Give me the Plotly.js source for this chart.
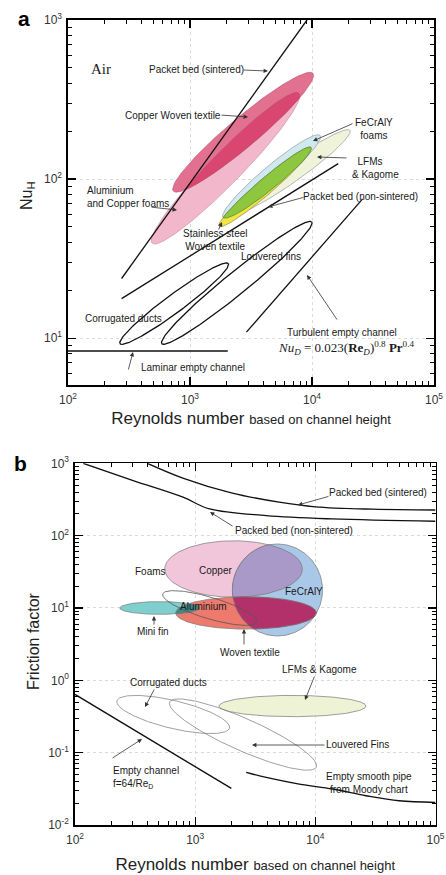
<!DOCTYPE html>
<html>
<head>
<meta charset="utf-8">
<script src="https://cdn.plot.ly/plotly-3.0.1.min.js"></script>
<style>
  html, body { margin: 0; padding: 0; background: #ffffff; }
  #chart { width: 446px; height: 875px; }
</style>
</head>
<body>
<div id="chart"></div>
<script>
// ===== Panel a: Nusselt number against Reynolds number (air) =====
// Correlation lines, end points [Re, Nu]
const sinteredRe = [275, 9100];
const sinteredNu = [23.7, 1000];
const nonSinteredRe = [275, 16400];
const nonSinteredNu = [17.7, 125];
const turbulentRe = [2900, 26000];
const turbulentNu = [10.9, 75];
const laminarRe = [100, 2040];
const laminarNu = [8.3, 8.3];

// Performance envelopes: both ends of the long axis (Re, Nu) and breadth (minor/major)
const envA = ['Aluminium and Copper foams', 'Copper Woven textile', 'LFMs & Kagome',
              'FeCrAlY foams', 'Stainless steel Woven textile', 'Louvered fins', 'Corrugated ducts'];
const envAReLo = [489, 730, 2340, 1862, 1730, 587, 267];
const envANuLo = [39.5, 84, 61.7, 57.4, 50.4, 9.22, 9.22];
const envAReHi = [7820, 10190, 20500, 11650, 9820, 9950, 2060];
const envANuHi = [346, 462, 202, 188, 158, 53.7, 29.4];
const envABreadth = [0.15, 0.16, 0.14, 0.16, 0.13, 0.115, 0.135];

// ===== Panel b: friction factor against Reynolds number =====
const sinteredFRe = [400, 800, 2000, 5000, 10000, 30000, 100000];
const sinteredF = [1000, 620, 390, 290, 250, 232, 226];
const nonSinteredFRe = [117, 305, 792, 1318, 3900, 13900, 100000];
const nonSinteredF = [1000, 577, 340, 234, 189, 170, 158];
const laminarFRe = [100, 2000];
const laminarF = [0.64, 0.032];
const moodyRe = [2660, 3900, 7360, 13900, 26400, 49800, 100000];
const moodyF = [0.0535, 0.0455, 0.0368, 0.0314, 0.0254, 0.0216, 0.0205];

const envB = ['Foams (Copper)', 'FeCrAlY', 'Woven textile', 'Mini fin', 'Aluminium',
              'LFMs & Kagome', 'Corrugated ducts', 'Louvered Fins'];
const envBReLo = [558, 4840, 689, 236, 537, 1578, 223, 614];
const envBFLo = [34.6, 76.7, 8.53, 10, 15.6, 0.441, 0.518, 0.501];
const envBReHi = [7800, 4840, 10190, 1089, 3236, 26370, 1932, 10190];
const envBFHi = [34.6, 4.1, 8.53, 10, 6.4, 0.441, 0.219, 0.0632];
const envBBreadth = [0.41, 0.98, 0.23, 0.16, 0.22, 0.145, 0.24, 0.2];

// Decade tick labels
const reTicks = [100, 1000, 10000, 100000];
const reTickText = ['10<sup>2</sup>', '10<sup>3</sup>', '10<sup>4</sup>', '10<sup>5</sup>'];
const nuTicks = [10, 100, 1000];
const nuTickText = ['10<sup>1</sup>', '10<sup>2</sup>', '10<sup>3</sup>'];
const fTicks = [0.01, 0.1, 1, 10, 100, 1000];
const fTickText = ['10<sup>-2</sup>', '10<sup>-1</sup>', '10<sup>0</sup>', '10<sup>1</sup>', '10<sup>2</sup>', '10<sup>3</sup>'];

// ---------- figure geometry ----------
const W = 446, H = 875;
const domAx = [68 / W, 434 / W], domAy = [1 - 385.3 / H, 1 - 20 / H];
const domBx = [75 / W, 435.5 / W], domBy = [1 - 825 / H, 1 - 463.3 / H];
const rangeAx = [2, 5], rangeAy = [Math.log10(5.05), 3];
const rangeBx = [2, 5], rangeBy = [-2, 3];

// pixels per decade along each axis, so envelopes are true ellipses on screen
const kAx = (domAx[1] - domAx[0]) * W / (rangeAx[1] - rangeAx[0]);
const kAy = (domAy[1] - domAy[0]) * H / (rangeAy[1] - rangeAy[0]);
const kBx = (domBx[1] - domBx[0]) * W / (rangeBx[1] - rangeBx[0]);
const kBy = (domBy[1] - domBy[0]) * H / (rangeBy[1] - rangeBy[0]);

function envelope(x1, y1, x2, y2, breadth, kx, ky) {
  const u1 = Math.log10(x1) * kx, v1 = Math.log10(y1) * ky;
  const u2 = Math.log10(x2) * kx, v2 = Math.log10(y2) * ky;
  const e = { cu: (u1 + u2) / 2, cv: (v1 + v2) / 2, a: Math.hypot(u2 - u1, v2 - v1) / 2,
              th: Math.atan2(v2 - v1, u2 - u1), kx, ky };
  e.b = e.a * breadth;
  e.pts = [];
  const n = 240;
  for (let i = 0; i <= n; i++) {
    const t = 2 * Math.PI * i / n;
    const c = Math.cos(t), s = Math.sin(t);
    e.pts.push([e.cu + e.a * c * Math.cos(e.th) - e.b * s * Math.sin(e.th),
                e.cv + e.a * c * Math.sin(e.th) + e.b * s * Math.cos(e.th)]);
  }
  return e;
}
function inside(e, p) {
  const du = p[0] - e.cu, dv = p[1] - e.cv;
  const q1 = (du * Math.cos(e.th) + dv * Math.sin(e.th)) / e.a;
  const q2 = (-du * Math.sin(e.th) + dv * Math.cos(e.th)) / e.b;
  return q1 * q1 + q2 * q2 <= 1.0001;
}
// common area of two envelopes (both convex)
function overlapPts(e1, e2) {
  const pts = e1.pts.filter(p => inside(e2, p)).concat(e2.pts.filter(p => inside(e1, p)));
  if (!pts.length) return [];
  const mu = pts.reduce((s, p) => s + p[0], 0) / pts.length;
  const mv = pts.reduce((s, p) => s + p[1], 0) / pts.length;
  pts.sort((p, q) => Math.atan2(p[1] - mv, p[0] - mu) - Math.atan2(q[1] - mv, q[0] - mu));
  pts.push(pts[0]);
  return pts;
}
function toXY(pts, kx, ky) {
  return { x: pts.map(p => Math.pow(10, p[0] / kx)), y: pts.map(p => Math.pow(10, p[1] / ky)) };
}
function shapeTrace(pts, kx, ky, xa, ya, fill, lineColor, lineWidth, name) {
  const d = toXY(pts, kx, ky);
  return { x: d.x, y: d.y, xaxis: xa, yaxis: ya, mode: 'lines', name: name,
           fill: fill ? 'toself' : 'none', fillcolor: fill || undefined,
           line: { color: lineColor, width: lineWidth }, hoverinfo: 'name', showlegend: false };
}
function lineTrace(x, y, xa, ya, width, smooth) {
  return { x, y, xaxis: xa, yaxis: ya, mode: 'lines', hoverinfo: 'skip', showlegend: false,
           line: { color: '#111111', width: width, shape: smooth ? 'spline' : 'linear' } };
}

const eA = envA.map((n, i) => envelope(envAReLo[i], envANuLo[i], envAReHi[i], envANuHi[i], envABreadth[i], kAx, kAy));
const eB = envB.map((n, i) => envelope(envBReLo[i], envBFLo[i], envBReHi[i], envBFHi[i], envBBreadth[i], kBx, kBy));

const traces = [];
// panel a envelopes
traces.push(shapeTrace(eA[0].pts, kAx, kAy, 'x', 'y', '#f2b7cb', '#c98aa0', 0.6, envA[0]));
traces.push(shapeTrace(eA[1].pts, kAx, kAy, 'x', 'y', '#e2718f', '#b8506d', 0.6, envA[1]));
traces.push(shapeTrace(overlapPts(eA[0], eA[1]), kAx, kAy, 'x', 'y', '#d9466f', '#b8506d', 0.6, 'Copper'));
traces.push(shapeTrace(eA[2].pts, kAx, kAy, 'x', 'y', '#eff3d9', '#9a9a9a', 0.7, envA[2]));
traces.push(shapeTrace(eA[3].pts, kAx, kAy, 'x', 'y', '#cfe9f1', '#9a9a9a', 0.7, envA[3]));
traces.push(shapeTrace(eA[4].pts, kAx, kAy, 'x', 'y', '#f3e540', '#8a8a5a', 0.7, envA[4]));
traces.push(shapeTrace(overlapPts(eA[3], eA[4]), kAx, kAy, 'x', 'y', '#8dc63f', '#5d7f3a', 0.7, 'Woven textile'));
traces.push(shapeTrace(eA[5].pts, kAx, kAy, 'x', 'y', null, '#111111', 1.3, envA[5]));
traces.push(shapeTrace(eA[6].pts, kAx, kAy, 'x', 'y', null, '#111111', 1.3, envA[6]));
// panel a lines
traces.push(lineTrace(sinteredRe, sinteredNu, 'x', 'y', 1.3));
traces.push(lineTrace(nonSinteredRe, nonSinteredNu, 'x', 'y', 1.3));
traces.push(lineTrace(turbulentRe, turbulentNu, 'x', 'y', 1.3));
traces.push(lineTrace(laminarRe, laminarNu, 'x', 'y', 1.3));

// panel b envelopes
traces.push(shapeTrace(eB[5].pts, kBx, kBy, 'x2', 'y2', '#eef3d6', '#777777', 0.7, envB[5]));
traces.push(shapeTrace(eB[6].pts, kBx, kBy, 'x2', 'y2', null, '#777777', 0.7, envB[6]));
traces.push(shapeTrace(eB[7].pts, kBx, kBy, 'x2', 'y2', null, '#777777', 0.7, envB[7]));
traces.push(shapeTrace(eB[0].pts, kBx, kBy, 'x2', 'y2', '#f2c6da', '#777777', 0.7, envB[0]));
traces.push(shapeTrace(eB[1].pts, kBx, kBy, 'x2', 'y2', '#a9c8e7', '#777777', 0.7, envB[1]));
traces.push(shapeTrace(overlapPts(eB[0], eB[1]), kBx, kBy, 'x2', 'y2', '#a899c9', '#777777', 0.7, 'Copper / FeCrAlY'));
traces.push(shapeTrace(eB[2].pts, kBx, kBy, 'x2', 'y2', '#ee7a6e', '#777777', 0.7, envB[2]));
traces.push(shapeTrace(overlapPts(eB[1], eB[2]), kBx, kBy, 'x2', 'y2', '#b3316b', '#777777', 0.7, 'FeCrAlY / Woven textile'));
traces.push(shapeTrace(eB[3].pts, kBx, kBy, 'x2', 'y2', '#80cfcf', '#777777', 0.7, envB[3]));
traces.push(shapeTrace(overlapPts(eB[2], eB[3]), kBx, kBy, 'x2', 'y2', '#3f8a86', '#777777', 0.7, 'Mini fin / Woven textile'));
traces.push(shapeTrace(eB[4].pts, kBx, kBy, 'x2', 'y2', null, '#555555', 0.8, envB[4]));
// panel b lines
traces.push(lineTrace(sinteredFRe, sinteredF, 'x2', 'y2', 1.3, true));
traces.push(lineTrace(nonSinteredFRe, nonSinteredF, 'x2', 'y2', 1.3, true));
traces.push(lineTrace(laminarFRe, laminarF, 'x2', 'y2', 1.4));
traces.push(lineTrace(moodyRe, moodyF, 'x2', 'y2', 1.4, true));

// ---------- text and pointers, placed in figure pixels ----------
const SANS = 'Liberation Sans Narrow, Liberation Sans, Arial, sans-serif';
const SERIF = 'Liberation Serif, Times New Roman, serif';
const AXIS_FONT = 'Liberation Sans, Arial, sans-serif';
const labels = [
  // panel a
  { px: 24, py: 19, text: '<b>a</b>', size: 21, family: AXIS_FONT, color: '#000' },
  { px: 28, py: 196, text: 'Nu<sub>H</sub>', size: 16, family: AXIS_FONT, color: '#222', angle: -90 },
  { px: 101, py: 69, text: 'Air', size: 15, family: SERIF },
  { px: 196, py: 70, text: 'Packet bed (sintered)' },
  { px: 173, py: 115, text: 'Copper Woven textile' },
  { px: 374, py: 129, text: 'FeCrAlY<br>foams' },
  { px: 350, py: 168, text: '  LFMs<br>& Kagome', anchor: 'left', align: 'left' },
  { px: 360, py: 197, text: 'Packet bed (non-sintered)' },
  { px: 85, py: 197, text: 'Aluminium<br>and Copper foams', anchor: 'left', align: 'left' },
  { px: 215, py: 240, text: 'Stainless steel<br>Woven textile' },
  { px: 271, py: 256, text: 'Louvered fins' },
  { px: 123, py: 318, text: 'Corrugated ducts' },
  { px: 342, py: 332, text: 'Turbulent empty channel' },
  { px: 346, py: 348, text: '<i>Nu</i><sub><i>D</i></sub> = 0.023(<b>Re</b><sub><i>D</i></sub>)<sup>0.8</sup> <b>Pr</b><sup>0.4</sup>', size: 13, family: SERIF },
  { px: 193, py: 367, text: 'Laminar empty channel' },
  // panel b
  { px: 20, py: 464, text: '<b>b</b>', size: 21, family: AXIS_FONT, color: '#000' },
  { px: 33, py: 641, text: 'Friction factor', size: 16, family: AXIS_FONT, color: '#222', angle: -90 },
  { px: 378, py: 493, text: 'Packed bed (sintered)' },
  { px: 294, py: 530, text: 'Packed bed (non-sintered)' },
  { px: 150, py: 571, text: 'Foams' },
  { px: 215, py: 570, text: 'Copper' },
  { px: 304, py: 591, text: 'FeCrAlY' },
  { px: 203, py: 606, text: 'Aluminium' },
  { px: 153, py: 631, text: 'Mini fin' },
  { px: 250, py: 652, text: 'Woven textile' },
  { px: 319, py: 669, text: 'LFMs &amp; Kagome' },
  { px: 168, py: 682, text: 'Corrugated ducts' },
  { px: 357, py: 744, text: 'Louvered Fins' },
  { px: 111, py: 777, text: 'Empty channel<br>f=64/Re<sub>D</sub>', anchor: 'left', align: 'left' },
  { px: 369, py: 783, text: 'Empty smooth pipe<br>from Moody chart' }
];
const pointers = [
  // [tail x, tail y, head x, head y] in figure pixels
  [242, 70, 268, 71], [220, 115, 248, 117], [354, 123, 313, 141], [348, 158, 317, 157],
  [305, 197, 268, 207], [150, 207, 177, 210], [218, 231, 222, 222], [338, 321, 307, 275],
  [128, 371, 133, 352],
  [330, 496, 298, 505], [234, 527, 210, 512], [154, 626, 154, 616], [244, 646, 244, 629],
  [315, 675, 305, 700], [155, 688, 145, 707], [326, 745, 252, 745], [111, 759, 142, 739]
];

const annotations = labels.map(l => ({
  xref: 'paper', yref: 'paper', x: l.px / W, y: 1 - l.py / H,
  xanchor: l.anchor || 'center', yanchor: 'middle', align: l.align || 'center',
  textangle: l.angle || 0, text: l.text, showarrow: false,
  font: { family: l.family || SANS, size: l.size || 10, color: l.color || '#1a1a1a' }
})).concat(pointers.map(p => ({
  xref: 'paper', yref: 'paper', x: p[2] / W, y: 1 - p[3] / H,
  ax: p[0] - p[2], ay: p[1] - p[3], text: '', showarrow: true,
  arrowhead: 2, arrowsize: 1.1, arrowwidth: 0.8, arrowcolor: '#333333', standoff: 0
})));

// minor tick positions: 2..9 within every decade of a range
function minorTicks(lo, hi) {
  const v = [];
  for (let d = lo; d < hi; d++) for (let m = 2; m <= 9; m++) v.push(m * Math.pow(10, d));
  return v;
}

function logAxis(dom, range, anchor, tv, tt, extra) {
  return Object.assign({
    type: 'log', domain: dom, range: range, anchor: anchor,
    tickmode: 'array', tickvals: tv, ticktext: tt, ticklabeloverflow: 'allow',
    showline: true, linecolor: '#000', linewidth: 1.6, mirror: 'ticks',
    ticks: 'inside', ticklen: 8, tickwidth: 1.2, tickcolor: '#000',
    tickfont: { family: AXIS_FONT, size: 12, color: '#333' },
    showgrid: true, gridcolor: '#d2d2d2', griddash: 'dot', gridwidth: 0.8,
    minor: { tickmode: 'array', tickvals: minorTicks(Math.floor(range[0]), Math.ceil(range[1])),
             ticks: 'inside', ticklen: 4, tickwidth: 1, tickcolor: '#000', showgrid: false },
    zeroline: false, fixedrange: true, automargin: false
  }, extra);
}
const xTitle = 'Reynolds number <span style="font-size:13px">based on channel height</span>';
const xTitleFont = { family: AXIS_FONT, size: 17, color: '#222' };

const layout = {
  width: W, height: H, margin: { l: 0, r: 0, t: 0, b: 0 },
  paper_bgcolor: '#fff', plot_bgcolor: '#fff', showlegend: false,
  xaxis: logAxis(domAx, rangeAx, 'y', reTicks, reTickText, { ticklabelstandoff: 3, title: { text: xTitle, standoff: 6, font: xTitleFont } }),
  yaxis: logAxis(domAy, rangeAy, 'x', nuTicks, nuTickText, { ticklabelstandoff: 2 }),
  xaxis2: logAxis(domBx, rangeBx, 'y2', reTicks, reTickText, { ticklabelstandoff: 3, title: { text: xTitle, standoff: 12, font: xTitleFont } }),
  yaxis2: logAxis(domBy, rangeBy, 'x2', fTicks, fTickText, { ticklabelstandoff: 2 }),
  annotations: annotations
};

Plotly.newPlot('chart', traces, layout, { staticPlot: true, displayModeBar: false });
</script>
</body>
</html>
